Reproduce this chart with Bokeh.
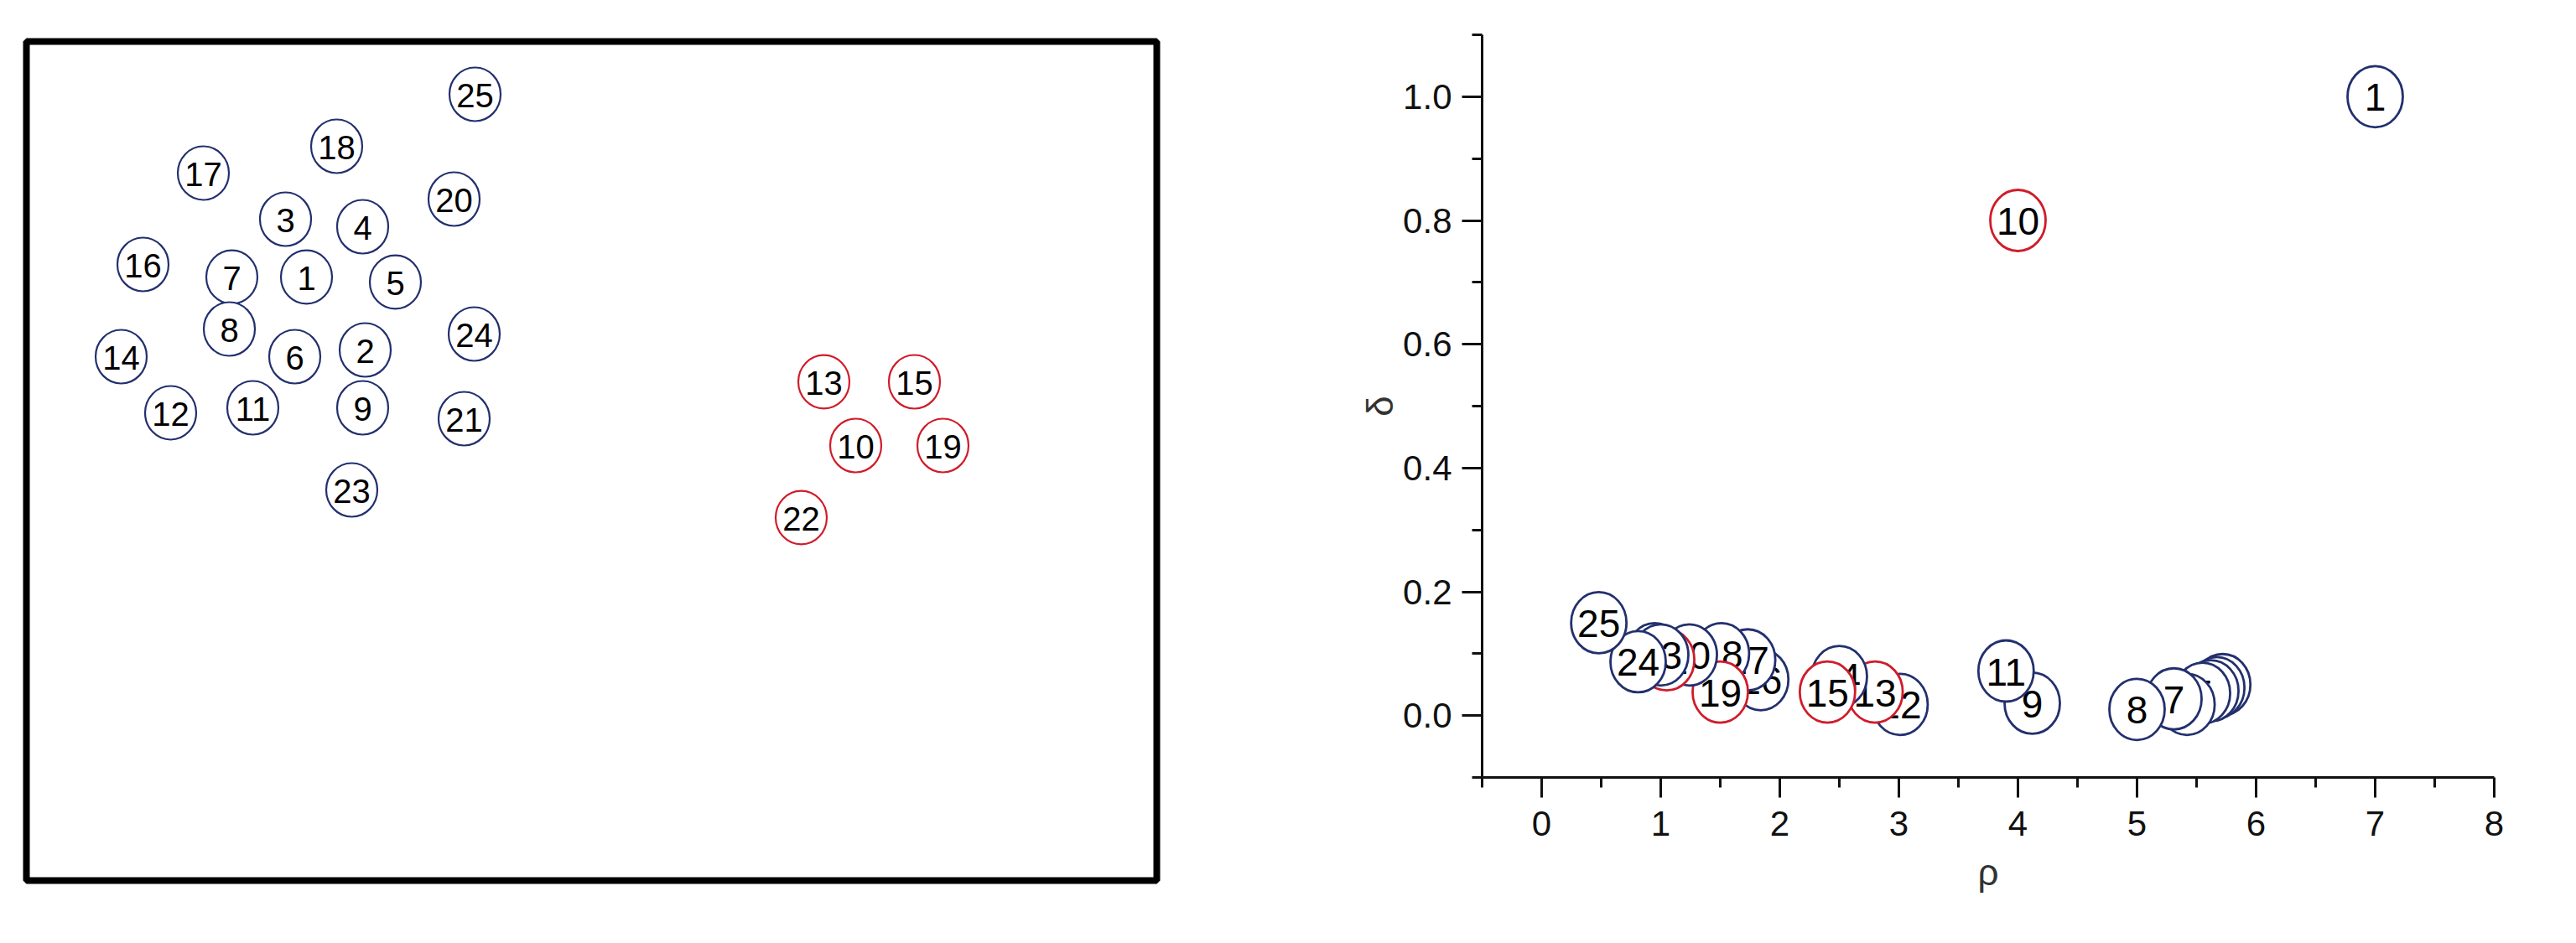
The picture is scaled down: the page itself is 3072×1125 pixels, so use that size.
from bokeh.plotting import figure
from bokeh.layouts import row
from bokeh.models import FixedTicker, Range1d
from bokeh.core.properties import value
from bokeh.embed import file_html
from bokeh.resources import INLINE

# ---------------- data ----------------
labels = ["1", "2", "3", "4", "5", "6", "7", "8", "9", "10", "11", "12", "13",
          "14", "15", "16", "17", "18", "19", "20", "21", "22", "23", "24", "25"]
# 1 = second cluster (red), 0 = first cluster (blue)
cluster = [0, 0, 0, 0, 0, 0, 0, 0, 0, 1, 0, 0, 1, 0, 1, 0, 0, 0, 1, 0, 0, 1, 0, 0, 0]

# left panel: 2-D positions of the samples
left_x = [3.34, 4.04, 3.09, 4.01, 4.40, 3.20, 2.45, 2.42, 4.01, 9.89, 2.70, 1.72, 9.51,
          1.13, 10.59, 1.39, 2.11, 3.70, 10.93, 5.10, 5.22, 9.24, 3.88, 5.34, 5.35]
left_y = [7.20, 6.33, 7.89, 7.80, 7.14, 6.25, 7.20, 6.58, 5.64, 5.19, 5.64, 5.58, 5.95,
          6.25, 5.95, 7.35, 8.44, 8.76, 5.19, 8.13, 5.51, 4.33, 4.66, 6.52, 9.38]

# right panel: decision graph (rho, delta)
rho = [7.00, 5.72, 5.67, 5.62, 5.55, 5.42, 5.31, 5.00, 4.12, 4.00, 3.90, 3.01, 2.80,
       2.50, 2.40, 1.84, 1.73, 1.51, 1.50, 1.24, 0.95, 1.05, 1.00, 0.81, 0.48]
delta = [1.00, 0.050, 0.045, 0.040, 0.036, 0.018, 0.027, 0.010, 0.020, 0.80, 0.072, 0.018, 0.038,
         0.063, 0.038, 0.058, 0.090, 0.100, 0.038, 0.098, 0.100, 0.090, 0.098, 0.087, 0.150]

x_major = [0, 1, 2, 3, 4, 5, 6, 7, 8]
x_minor = [-0.5, 0.5, 1.5, 2.5, 3.5, 4.5, 5.5, 6.5, 7.5]
y_major = [0.0, 0.2, 0.4, 0.6, 0.8, 1.0]
y_minor = [-0.1, 0.1, 0.3, 0.5, 0.7, 0.9, 1.1]
y_labels = ["0.0", "0.2", "0.4", "0.6", "0.8", "1.0"]

BLUE = "#23306e"
RED = "#d01c2a"
FONT = "Liberation Sans"

# ---------------- left panel ----------------
left = figure(width=1600, height=1100, x_range=Range1d(0, 13.48), y_range=Range1d(0, 10.01),
              x_axis_location=None, y_axis_location=None, toolbar_location=None,
              output_backend="svg", min_border_left=31, min_border_top=49,
              min_border_right=221, min_border_bottom=50)
left.frame_align = False
left.grid.visible = False
left.outline_line_color = "black"
left.outline_line_width = 8
left.background_fill_color = "white"
left.border_fill_color = "white"

for i in range(len(labels)):
    col = RED if cluster[i] else BLUE
    left.ellipse(x=[left_x[i]], y=[left_y[i]], width=61, height=64,
                 width_units="screen", height_units="screen",
                 fill_color="white", line_color=col, line_width=2.2)
    left.text(x=[left_x[i]], y=[left_y[i]], text=[labels[i]], text_align="center",
              text_baseline="middle", text_font=value(FONT), text_font_size="40px",
              text_color="black", y_offset=1)

# ---------------- right panel ----------------
right = figure(width=1456, height=1100, x_range=Range1d(-0.5, 8), y_range=Range1d(-0.1, 1.1),
               toolbar_location=None, output_backend="svg",
               min_border_left=167, min_border_top=41, min_border_right=82, min_border_bottom=173)
right.frame_align = False
right.grid.visible = False
right.outline_line_color = None
right.border_fill_color = "white"

right.xaxis.ticker = FixedTicker(ticks=x_major, minor_ticks=x_minor)
right.yaxis.ticker = FixedTicker(ticks=y_major, minor_ticks=y_minor)
right.yaxis.major_label_overrides = {t: l for t, l in zip(y_major, y_labels)}
right.xaxis.axis_label = "ρ"
right.yaxis.axis_label = "δ"

for ax in (right.xaxis[0], right.yaxis[0]):
    ax.axis_line_width = 3
    ax.axis_line_color = "#111111"
    ax.major_tick_line_width = 3
    ax.minor_tick_line_width = 3
    ax.major_tick_line_color = "#111111"
    ax.minor_tick_line_color = "#111111"
    ax.major_tick_in = 0
    ax.minor_tick_in = 0
    ax.major_tick_out = 24
    ax.minor_tick_out = 12
    ax.major_label_text_font = FONT
    ax.major_label_text_font_size = "42px"
    ax.major_label_text_color = "#111111"
    ax.axis_label_text_font = FONT
    ax.axis_label_text_font_size = "44px"
    ax.axis_label_text_font_style = "normal"
    ax.axis_label_text_color = "#333333"

right.xaxis[0].major_label_standoff = 16
right.xaxis[0].axis_label_standoff = 16
right.yaxis[0].major_label_standoff = 12
right.yaxis[0].axis_label_standoff = 0

for i in range(len(labels)):
    col = RED if cluster[i] else BLUE
    right.ellipse(x=[rho[i]], y=[delta[i]], width=66, height=73,
                  width_units="screen", height_units="screen",
                  fill_color="white", line_color=col, line_width=2.8)
    right.text(x=[rho[i]], y=[delta[i]], text=[labels[i]], text_align="center",
               text_baseline="middle", text_font=value(FONT), text_font_size="46px",
               text_color="black", y_offset=1)

layout = row(left, right)
open("out.html", "w").write(file_html(layout, INLINE))
